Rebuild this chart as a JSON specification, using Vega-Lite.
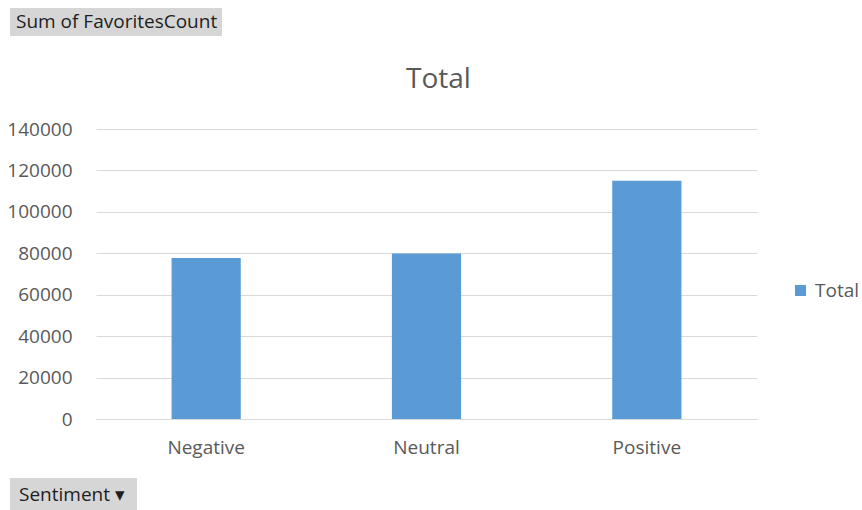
{
  "$schema": "https://vega.github.io/schema/vega-lite/v6.json",
  "width": 661,
  "height": 290,
  "autosize": {"type": "none"},
  "padding": {"left": 96, "top": 129, "right": 105, "bottom": 91},
  "background": "white",
  "config": {"view": {"stroke": null}, "font": "Open Sans"},
  "datasets": {
    "bars": [
      {"Sentiment": "Negative", "Total": 77700},
      {"Sentiment": "Neutral", "Total": 79900},
      {"Sentiment": "Positive", "Total": 115000}
    ]
  },
  "resolve": {"scale": {"shape": "independent"}, "legend": {"shape": "independent"}, "axis": {"x": "independent"}},
  "layer": [
    {
      "data": {"name": "bars"},
      "mark": {"type": "bar"},
      "encoding": {
        "x": {"field": "Sentiment", "type": "nominal", "sort": null,
          "scale": {"paddingInner": 0.686, "paddingOuter": 0.343},
          "axis": {"orient": "bottom", "title": null, "labelAngle": 0, "labelFont": "Open Sans", "labelFontSize": 19, "labelColor": "#595959", "ticks": false, "tickSize": 0, "labelPadding": 19, "domainColor": "#d9d9d9", "domainWidth": 1, "grid": false}},
        "y": {"field": "Total", "type": "quantitative",
          "scale": {"domain": [0, 140000], "nice": false},
          "axis": {"title": null, "values": [0, 20000, 40000, 60000, 80000, 100000, 120000, 140000], "format": "d", "labelFont": "Open Sans", "labelFontSize": 19, "labelColor": "#595959", "ticks": false, "tickSize": 0, "labelPadding": 24, "domain": false, "gridColor": "#d9d9d9", "gridWidth": 1}},
        "color": {"datum": "Total", "scale": {"range": ["#5b9bd5"]},
          "legend": {"title": null, "orient": "none", "legendX": 695, "legendY": 152, "symbolType": "square", "symbolSize": 121, "symbolStrokeWidth": 0, "labelFont": "Open Sans", "labelFontSize": 19, "labelColor": "#595959", "labelOffset": 5, "padding": 0}}
      }
    },
    {
      "data": {"name": "bars"},
      "mark": {"type": "tick", "opacity": 0},
      "encoding": {
        "x": {"field": "Sentiment", "type": "nominal", "sort": null,
          "axis": {"orient": "top", "title": "Total", "titleFont": "Open Sans", "titleFontSize": 28, "titleFontWeight": "normal", "titleColor": "#595959", "titlePadding": 36, "titleX": 342, "labels": false, "ticks": false, "domain": false, "grid": false}}
      }
    },
    {
      "data": {"values": [{"Field": "Sum of FavoritesCount"}]},
      "mark": {"type": "point", "opacity": 0},
      "encoding": {
        "shape": {"field": "Field", "type": "nominal",
          "legend": {"title": null, "orient": "none", "legendX": -86, "legendY": -121, "symbolSize": 0, "symbolOpacity": 0, "symbolStrokeWidth": 0, "labelFont": "Open Sans", "labelFontSize": 19, "labelColor": "#1e1e1e", "labelOffset": -17, "labelLimit": 400, "fillColor": "#d6d6d6", "padding": 4}}
      }
    },
    {
      "data": {"values": [{"Axis": "Sentiment  ▾"}]},
      "mark": {"type": "point", "opacity": 0},
      "encoding": {
        "shape": {"field": "Axis", "type": "nominal",
          "legend": {"title": null, "orient": "none", "legendX": -86, "legendY": 349, "symbolSize": 0, "symbolOpacity": 0, "symbolStrokeWidth": 0, "labelFont": "Open Sans", "labelFontSize": 19, "labelColor": "#1e1e1e", "labelOffset": -17, "labelLimit": 400, "fillColor": "#d6d6d6", "padding": 7}}
      }
    }
  ]
}
